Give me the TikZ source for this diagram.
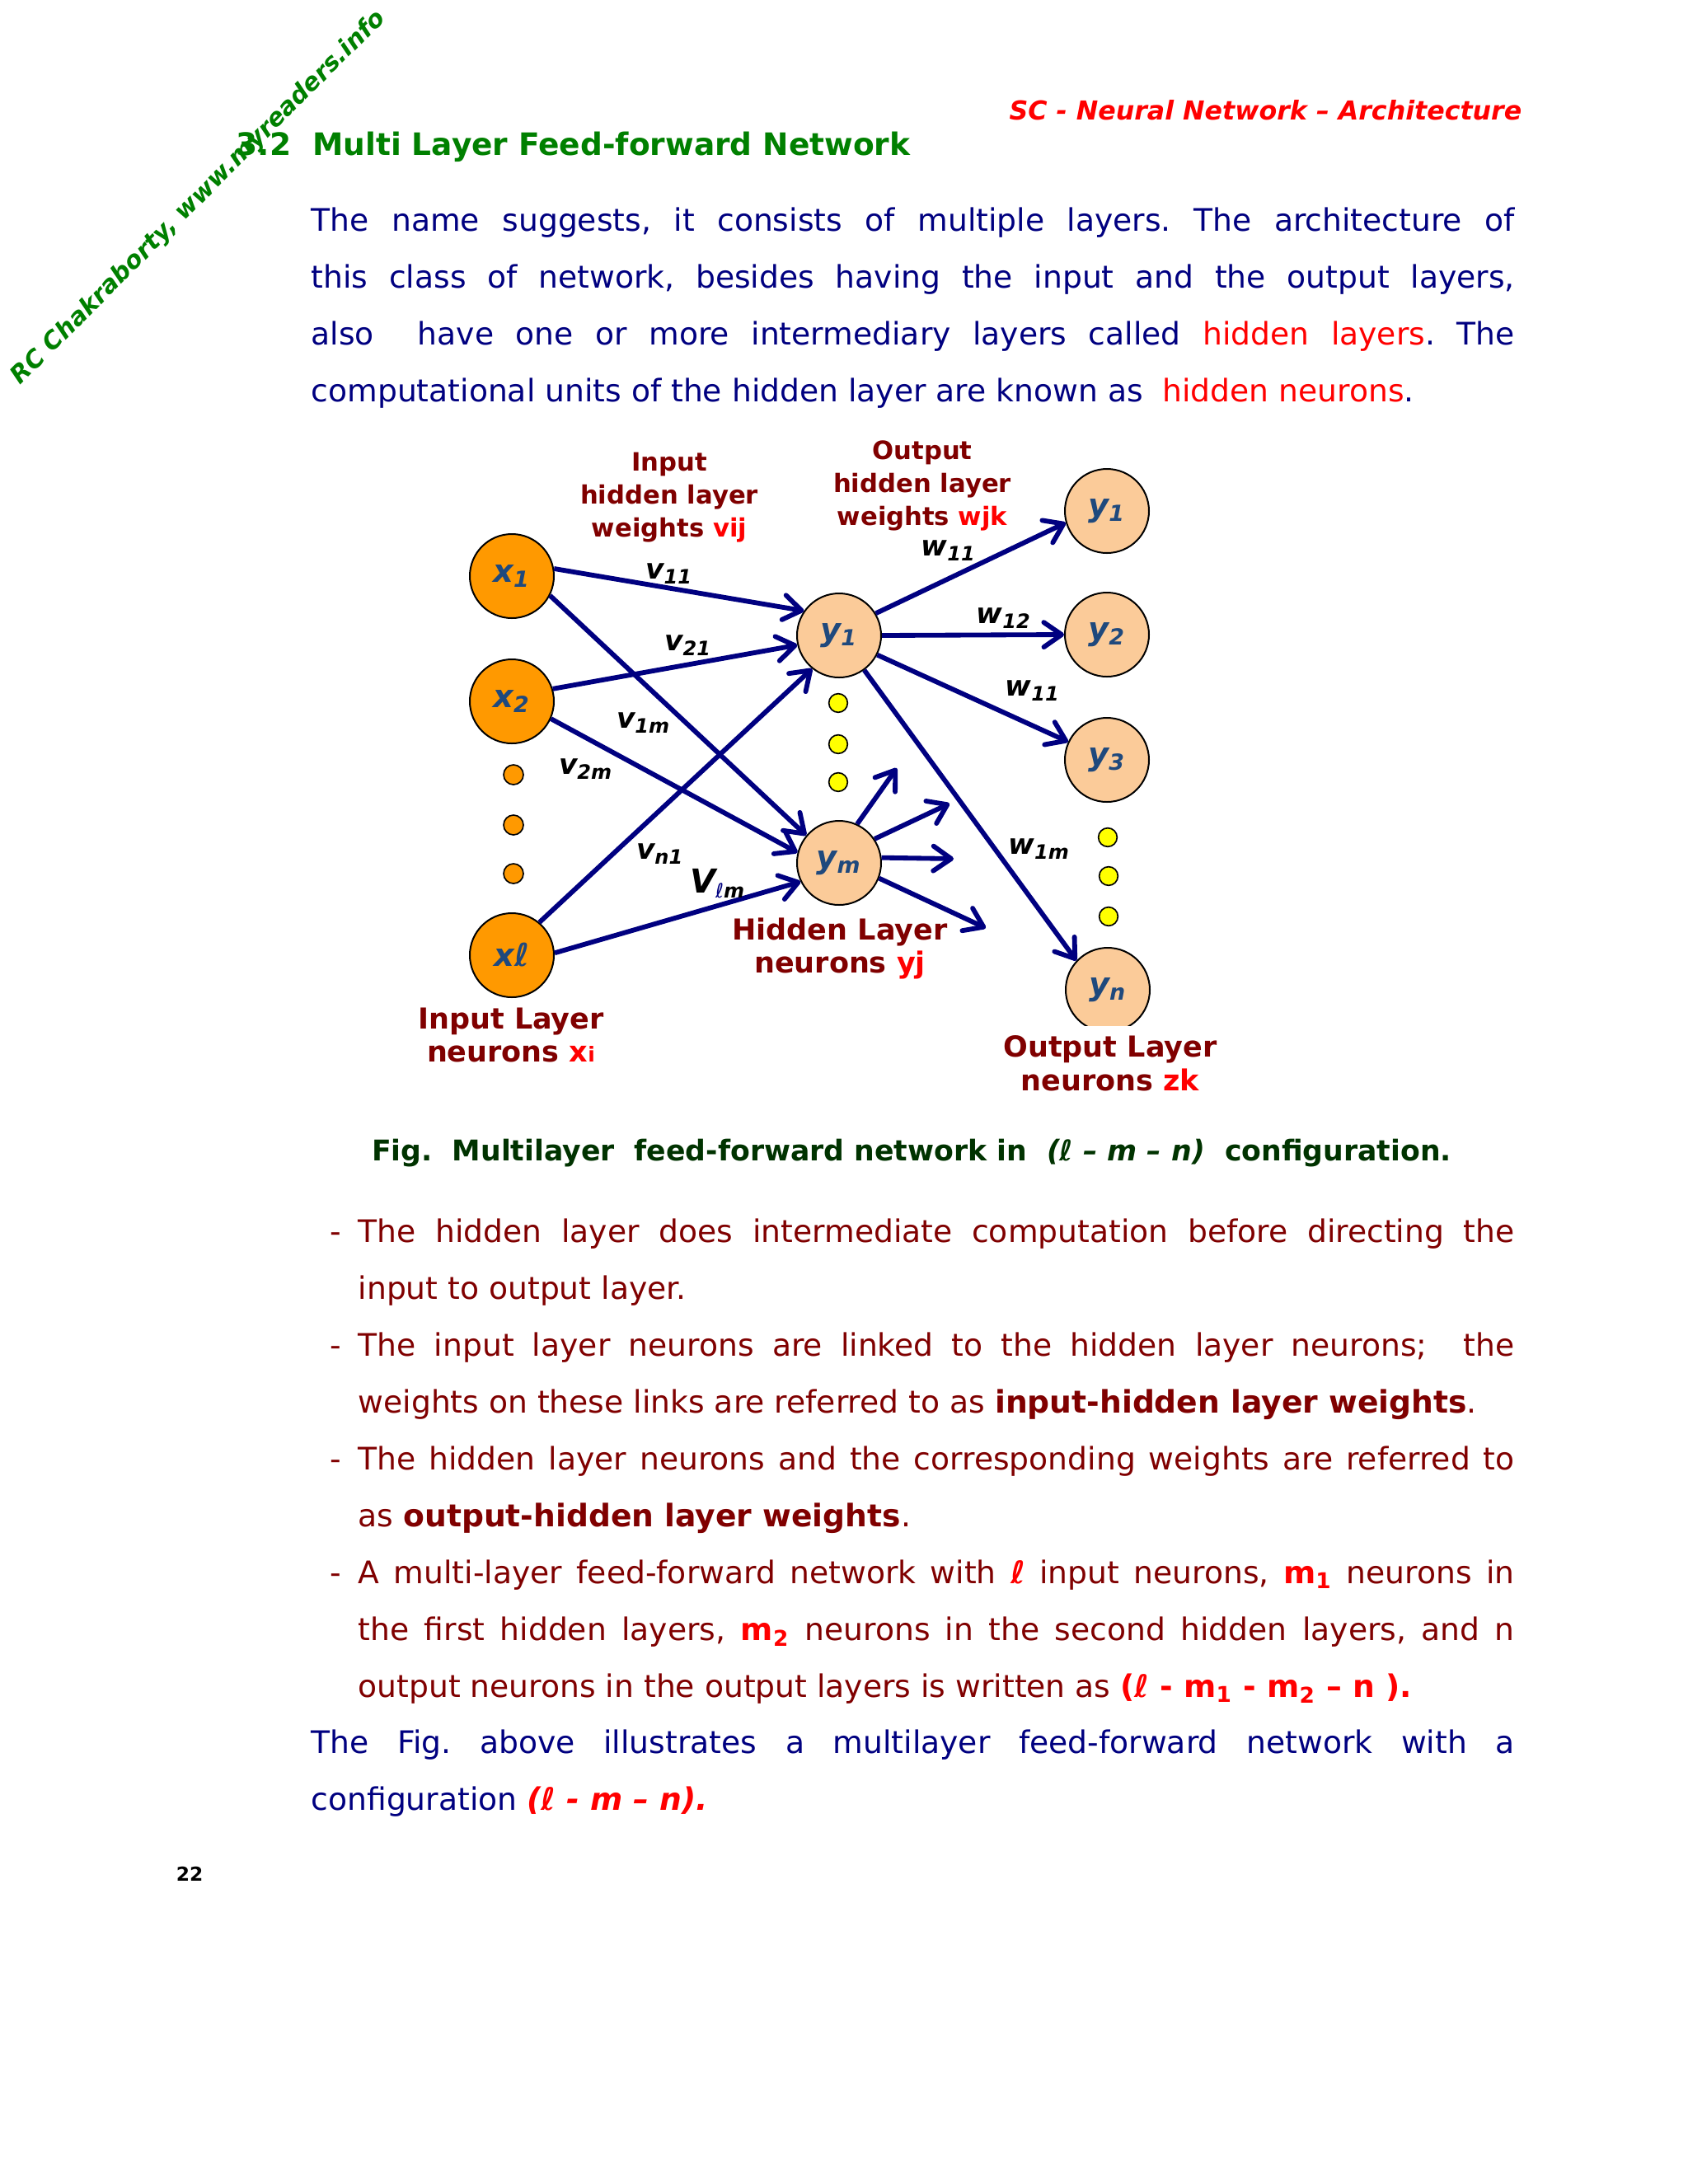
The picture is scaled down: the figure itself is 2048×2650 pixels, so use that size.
\documentclass[tikz,border=0pt]{standalone}
\usepackage{fontspec}
\setmainfont{DejaVu Sans}[BoldFont={DejaVu Sans Bold},ItalicFont={DejaVu Sans Oblique},BoldItalicFont={DejaVu Sans Bold Oblique}]
\usetikzlibrary{arrows.meta}
\definecolor{navy}{HTML}{000080}
\definecolor{dred}{HTML}{800000}
\definecolor{orng}{HTML}{FF9900}
\definecolor{peach}{HTML}{FBCB99}
\definecolor{ntext}{HTML}{1F497D}
\definecolor{gtitle}{HTML}{008000}
\definecolor{gcap}{HTML}{003300}
\definecolor{rred}{HTML}{FF0000}
\definecolor{ylw}{HTML}{FFFF00}
\tikzset{
  inp/.style={circle, draw=black, line width=0.6pt, fill=orng, minimum size=30.6pt, inner sep=0pt,
    font=\fontsize{11.5}{13}\selectfont\bfseries\itshape, text=ntext},
  hid/.style={inp, fill=peach},
  dotO/.style={circle, draw=black, line width=0.5pt, fill=orng, minimum size=7.2pt, inner sep=0pt},
  dotY/.style={dotO, fill=ylw, minimum size=6.8pt},
  arr/.style={draw=navy, line width=1.75pt, -{Straight Barb[length=6.5pt,width=9pt,round]}},
  wl/.style={font=\fontsize{10.3}{12}\selectfont\bfseries\itshape, text=black, inner sep=0pt},
  ll/.style={font=\fontsize{9.2}{12}\selectfont\bfseries, text=dred, align=center, inner sep=0pt},
  lb/.style={ll, font=\fontsize{10.5}{12.2}\selectfont\bfseries},
  para/.style={anchor=base west, inner sep=0pt, align=justify, font=\fontsize{11.3}{20.7}\selectfont}
}
\begin{document}
\frenchspacing
\begin{tikzpicture}[x=0.3pt,y=-0.3pt]
\fill[white] (0,0) rectangle (2048,2650);
\path[use as bounding box] (0,0) rectangle (2048,2650);

% header and title
\node[anchor=east, font=\fontsize{9.5}{11}\selectfont\bfseries\itshape, text=rred, inner sep=0pt] (hdr) at (1847,134) {SC - Neural Network – Architecture};
\node[anchor=west, font=\fontsize{11.25}{13}\selectfont\bfseries, text=gtitle, inner sep=0pt] (title) at (286,178) {3.2\ \ Multi Layer Feed-forward Network};

% intro paragraph
\node[para, text width=438pt, text=navy] (intro) at (377,280) {The name suggests, it consists of multiple layers. The architecture of\linebreak this class of network, besides having the input and the output layers,\linebreak also\ \ have one or more intermediary layers called {\color{rred}hidden layers}. The\linebreak computational units of the hidden layer are known as\ \ {\color{rred}hidden neurons}.};

% neurons
\node[inp] (x1) at (621,699) {x\textsubscript{1}};
\node[inp] (x2) at (621,851) {x\textsubscript{2}};
\node[inp] (xl) at (621,1159) {xℓ};
\node[dotO] (od1) at (623,940) {};
\node[dotO] (od2) at (623,1001) {};
\node[dotO] (od3) at (623,1060) {};

\node[hid] (h1) at (1018,771) {y\textsubscript{1}};
\node[hid] (hm) at (1018,1047) {y\textsubscript{m}};
\node[dotY] (hd1) at (1017,853) {};
\node[dotY] (hd2) at (1017,903) {};
\node[dotY] (hd3) at (1017,949) {};

\node[hid] (o1) at (1343,620) {y\textsubscript{1}};
\node[hid] (o2) at (1343,770) {y\textsubscript{2}};
\node[hid] (o3) at (1343,922) {y\textsubscript{3}};
\node[hid] (on) at (1344,1201) {y\textsubscript{n}};
\node[dotY] (yd1) at (1344,1016) {};
\node[dotY] (yd2) at (1345,1063) {};
\node[dotY] (yd3) at (1345,1112) {};

% connections input -> hidden
\draw[arr] (x1.10) -- (h1.145);
\draw[arr] (x1.-27) -- (hm.140);
\draw[arr] (x2.17) -- (h1.-167);
\draw[arr] (x2.-24) -- (hm.166);
\draw[arr] (xl.50) -- (h1.-129);
\draw[arr] (xl.3) -- (hm.-154);
% hidden -> output
\draw[arr] (h1.31) -- (o1.-164);
\draw[arr] (h1.0) -- (o2.180);
\draw[arr] (h1.-27) -- (o3.155);
\draw[arr] (h1.-54) -- (on.137);
% stubs from ym
\coordinate (s1) at (1088,932);
\coordinate (s2) at (1152,975);
\coordinate (s3) at (1157,1042);
\coordinate (s4) at (1196,1126);
\draw[arr] (hm.65) -- (s1);
\draw[arr] (hm.34) -- (s2);
\draw[arr] (hm.7) -- (s3);
\draw[arr] (hm.-21) -- (s4);

% weight labels
\node[wl] (lv11) at (812,696) {v\textsubscript{11}};
\node[wl] (lv21) at (835,783) {v\textsubscript{21}};
\node[wl] (lv1m) at (781,877) {v\textsubscript{1m}};
\node[wl] (lv2m) at (711,933) {v\textsubscript{2m}};
\node[wl] (lvn1) at (801,1036) {v\textsubscript{n1}};
\node[wl] (lvlm) at (871,1072) {{\fontsize{12}{14}\selectfont V}\textsubscript{{\color{navy}\mdseries ℓ}m}};
\node[wl] (lw11) at (1151,668) {w\textsubscript{11}};
\node[wl] (lw12) at (1218,750) {w\textsubscript{12}};
\node[wl] (lw11b) at (1253,838) {w\textsubscript{11}};
\node[wl] (lw1m) at (1261,1030) {w\textsubscript{1m}};

% layer labels
\node[ll] (lin) at (812,604) {Input\\hidden layer\\weights {\color{rred}vij}};
\node[ll] (lout) at (1119,589) {Output\\hidden layer\\weights {\color{rred}wjk}};
\node[lb] (lhid) at (1019,1151) {Hidden Layer\\neurons {\color{rred}yj}};
\node[lb] (linl) at (620,1256) {Input Layer\\neurons {\color{rred}x{\fontsize{7.5}{8}\selectfont i}}};
\node[lb, fill=white, inner sep=3.5pt] (loutl) at (1347,1290) {Output Layer\\neurons {\color{rred}zk}};

% caption
\node[font=\fontsize{10.4}{12}\selectfont\bfseries, text=gcap, inner sep=0pt] (cap) at (1106,1399) {Fig.\ \ Multilayer\ \ feed-forward network in\ \ {\itshape(ℓ – m – n)}\ \ configuration.};

% bullet list
\node[para, text width=431.1pt, text=dred] (list) at (400,1507) {%
\hangindent=10.2pt\hangafter=1\noindent\makebox[10.2pt][l]{-}The hidden layer does intermediate computation before directing the\linebreak input to output layer.\par
\hangindent=10.2pt\hangafter=1\noindent\makebox[10.2pt][l]{-}The input layer neurons are linked to the hidden layer neurons;\ \ the\linebreak weights on these links are referred to as \textbf{input-hidden layer weights}.\par
\hangindent=10.2pt\hangafter=1\noindent\makebox[10.2pt][l]{-}The hidden layer neurons and the corresponding weights are referred to\linebreak as \textbf{output-hidden layer weights}.\par
\hangindent=10.2pt\hangafter=1\noindent\makebox[10.2pt][l]{-}A multi-layer feed-forward network with {\color{rred}\bfseries\itshape ℓ} input neurons, {\color{rred}\bfseries m\textsubscript{1}} neurons in\linebreak the first hidden layers, {\color{rred}\bfseries m\textsubscript{2}} neurons in the second hidden layers, and n\linebreak output neurons in the output layers is written as {\color{rred}\bfseries({\itshape ℓ} - m\textsubscript{1} - m\textsubscript{2} – n ).}\par};

% closing paragraph
\node[para, text width=438pt, text=navy] (close) at (377,2127) {The Fig. above illustrates a multilayer feed-forward network with a\linebreak configuration {\color{rred}\bfseries\itshape (ℓ - m – n).}};

% page number
\node[font=\fontsize{7}{8}\selectfont\bfseries, inner sep=0pt] (pg) at (230,2274) {22};

% watermark
\node[rotate=45, font=\fontsize{8.9}{11}\selectfont\bfseries\itshape, text=gtitle, inner sep=0pt] (wm) at (241,240) {RC Chakraborty, www.myreaders.info};
\end{tikzpicture}
\end{document}
